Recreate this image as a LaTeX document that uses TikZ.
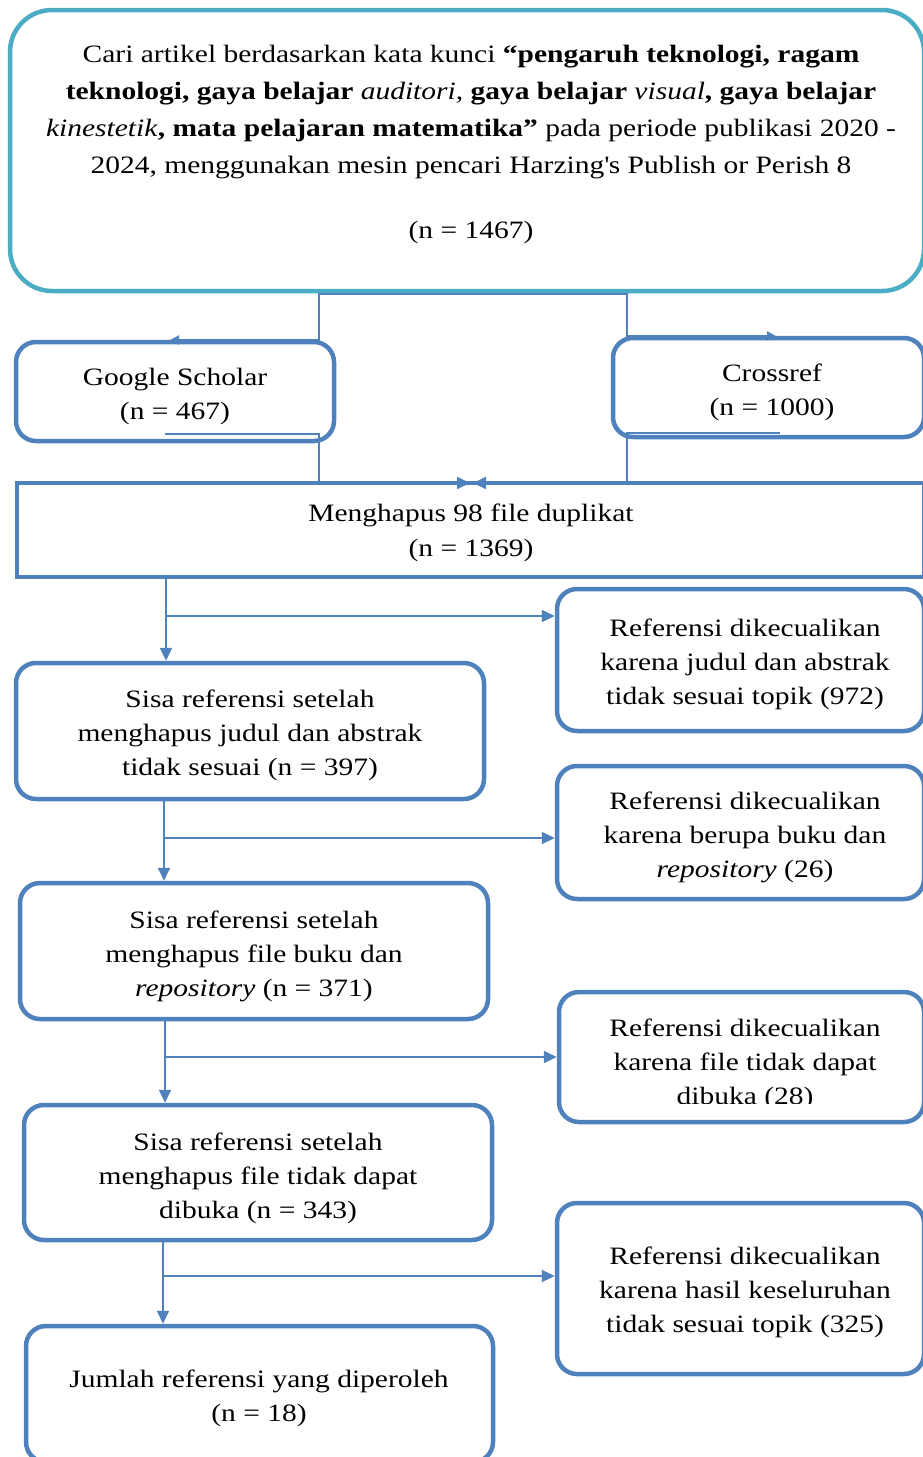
\documentclass[tikz,border=0pt]{standalone}
\usepackage{fontspec}
\setmainfont{Liberation Serif}[FakeStretch=1.18]
\usetikzlibrary{arrows.meta,calc}
\definecolor{tealb}{HTML}{4BACC6}
\definecolor{blueb}{HTML}{4F81BD}
\begin{document}
\begin{tikzpicture}[x=1pt,y=-1pt,
  box/.style={draw=blueb, line width=4.5pt, rounded corners=20pt, inner sep=0pt},
  txt/.style={align=center, inner sep=0pt, font=\fontsize{25}{34}\selectfont},
  conn/.style={draw=blueb, line width=2pt},
  arr/.style={conn, -{Triangle[length=13pt,width=12pt]}},
  smallarr/.style={conn, -{Triangle[length=9pt,width=9pt]}}]
\useasboundingbox (0,0) rectangle (923,1457);
% boxes
\node[box, draw=tealb, rounded corners=42pt, minimum width=914pt, minimum height=281pt] (top) at (467,150.5) {};
\node[txt, font=\fontsize{25}{37}\selectfont] (toptext) at (471,144)
 {Cari artikel berdasarkan kata kunci \textbf{“pengaruh teknologi, ragam}\\
  \textbf{teknologi, gaya belajar} \textit{auditori,} \textbf{gaya belajar} \textit{visual}\textbf{, gaya belajar}\\
  \textit{kinestetik}\textbf{, mata pelajaran matematika”} pada periode publikasi 2020 -\\
  2024, menggunakan mesin pencari Harzing\textquotesingle s Publish or Perish 8\\[28pt]
  (n = 1467)};
\node[box, minimum width=318pt, minimum height=99pt] (gs) at (175,391.5) {};
\node[txt] (gst) at (175,396) {Google Scholar\\(n = 467)};
\node[box, minimum width=311pt, minimum height=99pt] (cr) at (768.5,387.5) {};
\node[txt] (crt) at (772,392) {Crossref\\(n = 1000)};
\node[box, rounded corners=0pt, minimum width=907pt, minimum height=94pt] (mh) at (470.5,530) {};
\node[txt, font=\fontsize{25}{35.5}\selectfont] (mht) at (471,533) {Menghapus 98 file duplikat\\(n = 1369)};
\node[box, minimum width=367pt, minimum height=142pt] (r1) at (740.5,660) {};
\node[txt] (r1t) at (745,664) {Referensi dikecualikan\\karena judul dan abstrak\\tidak sesuai topik (972)};
\node[box, minimum width=468pt, minimum height=136pt] (s1) at (250,731) {};
\node[txt] (s1t) at (250,735) {Sisa referensi setelah\\menghapus judul dan abstrak\\tidak sesuai (n = 397)};
\node[box, minimum width=367pt, minimum height=133pt] (r2) at (740.5,832.5) {};
\node[txt] (r2t) at (745,837) {Referensi dikecualikan\\karena berupa buku dan\\\textit{repository} (26)};
\node[box, minimum width=468pt, minimum height=136pt] (s2) at (254,951) {};
\node[txt] (s2t) at (254,956) {Sisa referensi setelah\\menghapus file buku dan\\\textit{repository} (n = 371)};
\node[box, minimum width=365pt, minimum height=130pt] (r3) at (741.5,1057) {};
\begin{scope}
  \clip (560,995) rectangle (923,1103);
  \node[txt] (r3t) at (745,1064) {Referensi dikecualikan\\karena file tidak dapat\\dibuka (28)};
\end{scope}
\node[box, minimum width=468pt, minimum height=135pt] (s3) at (258,1172.5) {};
\node[txt] (s3t) at (258,1178) {Sisa referensi setelah\\menghapus file tidak dapat\\dibuka (n = 343)};
\node[box, minimum width=367pt, minimum height=171pt] (r4) at (740.5,1288.5) {};
\node[txt] (r4t) at (745,1292.5) {Referensi dikecualikan\\karena hasil keseluruhan\\tidak sesuai topik (325)};
\node[box, minimum width=467pt, minimum height=136pt] (jr) at (259.5,1394) {};
\node[txt] (jrt) at (259,1398) {Jumlah referensi yang diperoleh\\(n = 18)};
% elbow connectors from the top box
\coordinate (tm) at (470,294);
\coordinate (gsl) at (319,0);
\coordinate (crl) at (627,0);
\coordinate (gstip) at (170,340);
\coordinate (crtip) at (776,336);
\draw[smallarr] (tm) -| (gsl |- gstip) -- (gstip);
\draw[smallarr] (tm) -| (crl |- crtip) -- (crtip);
% elbow connectors into the duplicate box
\coordinate (gsin) at (165,434);
\coordinate (crin) at (780,433);
\coordinate (mtip1) at (470,483);
\coordinate (mtip2) at (473,483);
\draw[arr] (gsin) -| (gsl |- mtip1) -- (mtip1);
\draw[arr] (crin) -| (crl |- mtip2) -- (mtip2);
% main chain
\coordinate (c1) at (166,616);
\coordinate (c2) at (164,838);
\coordinate (c3) at (165,1057);
\coordinate (c4) at (163,1276);
\draw[arr] (mh.south -| c1) -- (s1.north -| c1);
\draw[arr] (c1) -- (c1 -| r1.west);
\draw[arr] (s1.south -| c2) -- (s2.north -| c2);
\draw[arr] (c2) -- (c2 -| r2.west);
\draw[arr] (s2.south -| c3) -- (s3.north -| c3);
\draw[arr] (c3) -- (c3 -| r3.west);
\draw[arr] (s3.south -| c4) -- (jr.north -| c4);
\draw[arr] (c4) -- (c4 -| r4.west);
\end{tikzpicture}
\end{document}
